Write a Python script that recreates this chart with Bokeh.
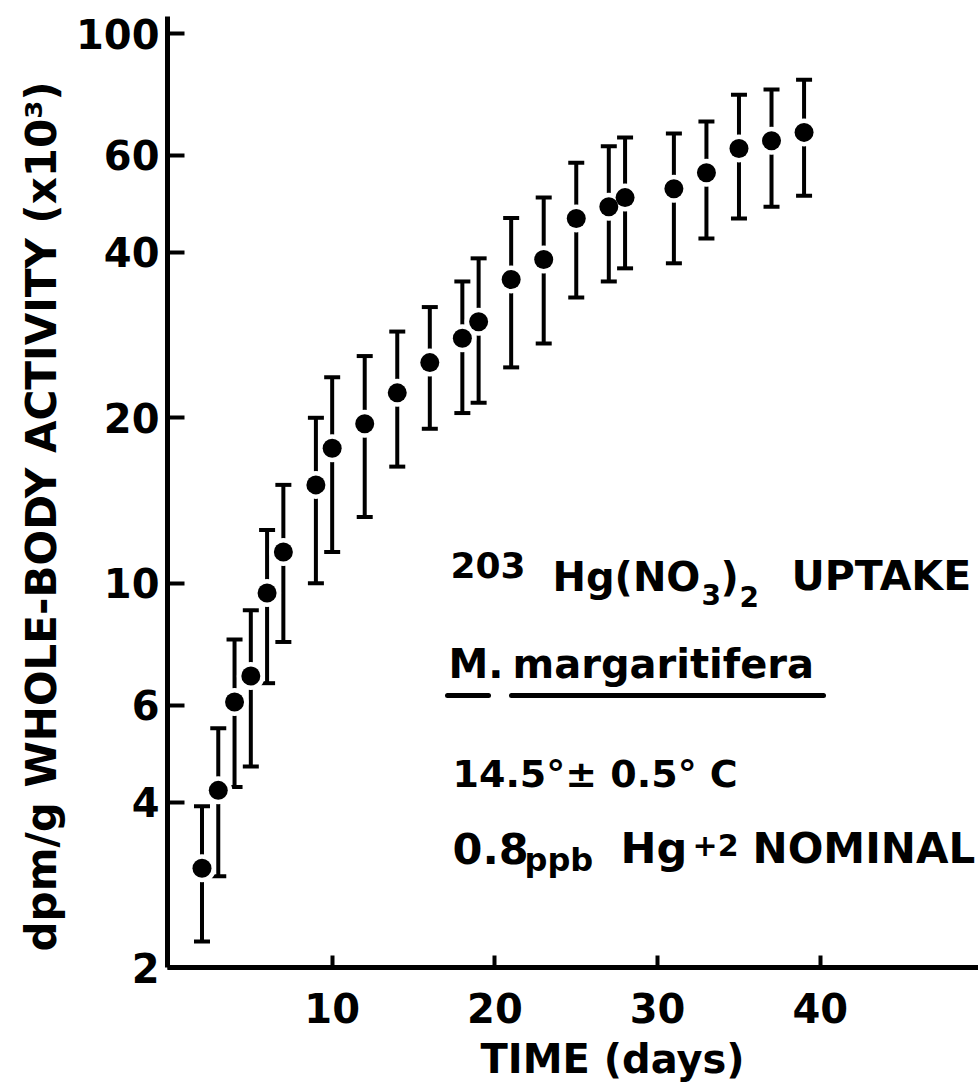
import math

from bokeh.embed import file_html
from bokeh.models import (ColumnDataSource, FixedTicker, Label, NumeralTickFormatter,
                          Range1d, TeeHead, Title, Whisker)
from bokeh.plotting import figure
from bokeh.resources import INLINE

# Whole-body activity of 203Hg in M. margaritifera over the uptake period
days = [2, 3, 4, 5, 6, 7, 9, 10, 12, 14, 16, 18, 19, 21, 23, 25, 27, 28, 31, 33, 35, 37, 39]
activity = [3.03, 4.2, 6.08, 6.78, 9.6, 11.4, 15.1, 17.6, 19.5, 22.2, 25.2, 27.9, 29.9,
            35.7, 38.8, 46.1, 48.4, 50.3, 52.2, 55.8, 61.8, 63.8, 66.1]
act_low = [2.23, 2.93, 4.26, 4.64, 6.58, 7.82, 10.0, 11.4, 13.2, 16.3, 19.1, 20.4, 21.3,
           24.7, 27.3, 33.1, 35.4, 37.4, 38.2, 42.4, 46.1, 48.4, 50.7]
act_high = [3.93, 5.45, 7.9, 8.93, 12.5, 15.1, 20.0, 23.7, 25.9, 28.7, 31.8, 35.4, 39.0,
            46.2, 50.3, 58.2, 62.4, 64.7, 65.8, 69.2, 77.4, 79.1, 82.4]

x_ticks = [10, 20, 30, 40]
y_ticks = [2, 4, 6, 10, 20, 40, 60, 100]

FONT = "DejaVu Sans"

# canvas geometry of the plotting frame
W, H = 978, 1090
FRAME_L, FRAME_R, FRAME_T, FRAME_B = 167, 978, 16, 967
X0, X1 = -0.12, 49.72
Y0, Y1 = 2.0, 107.4


def px_x(px):
    return X0 + (px - FRAME_L) / (FRAME_R - FRAME_L) * (X1 - X0)


def px_y(py):
    ly0, ly1 = math.log10(Y0), math.log10(Y1)
    return 10 ** (ly0 + (FRAME_B - py) / (FRAME_B - FRAME_T) * (ly1 - ly0))


p = figure(width=W, height=H, x_range=Range1d(X0, X1), y_range=Range1d(Y0, Y1),
           y_axis_type="log", output_backend="svg", toolbar_location=None,
           min_border_left=FRAME_L, min_border_right=W - FRAME_R,
           min_border_top=FRAME_T, min_border_bottom=H - FRAME_B)
p.outline_line_color = None
p.xgrid.visible = False
p.ygrid.visible = False
p.background_fill_color = "white"
p.border_fill_color = "white"

for ax in (p.xaxis[0], p.yaxis[0]):
    ax.axis_line_width = 5
    ax.axis_line_color = "black"
    ax.major_tick_line_width = 4
    ax.major_tick_line_color = "black"
    ax.major_tick_out = 0
    ax.minor_tick_in = 0
    ax.minor_tick_out = 0
    ax.major_label_text_font = FONT
    ax.major_label_text_font_style = "bold"
    ax.major_label_text_font_size = "40px"
    ax.major_label_text_color = "black"

p.xaxis.ticker = FixedTicker(ticks=x_ticks, minor_ticks=[])
p.yaxis.ticker = FixedTicker(ticks=y_ticks, minor_ticks=[])
p.yaxis.formatter = NumeralTickFormatter(format="0")
p.xaxis.major_tick_in = 12
p.yaxis.major_tick_in = 17
p.xaxis.major_label_standoff = 25
p.yaxis.major_label_standoff = 8

# axis titles, set in side panels so they are not clipped by the frame
p.add_layout(Title(text="dpm/g WHOLE-BODY ACTIVITY (x10³)", align="left", offset=16,
                   text_font=FONT, text_font_style="bold", text_font_size="42px",
                   text_color="black", standoff=16), "left")
p.add_layout(Title(text="TIME (days)", align="left", offset=313,
                   text_font=FONT, text_font_style="bold", text_font_size="40px",
                   text_color="black", standoff=17), "below")

src = ColumnDataSource(dict(day=days, act=activity, lo=act_low, hi=act_high))

bars = Whisker(source=src, base="day", lower="lo", upper="hi", dimension="height",
               line_width=4, line_color="black",
               lower_head=TeeHead(size=16, line_width=4, line_color="black"),
               upper_head=TeeHead(size=16, line_width=4, line_color="black"))
p.add_layout(bars)

# white halo around each point, then the solid dot
p.scatter("day", "act", source=src, size=28, fill_color="white", line_color=None)
p.scatter("day", "act", source=src, size=19, fill_color="black", line_color=None)


def label(px, base, text, size):
    # place a text run by its left edge and its baseline on the canvas
    p.add_layout(Label(x=px_x(px), y=px_y(base - 0.4 * size), text=text,
                       text_align="left", text_baseline="alphabetic",
                       text_font=FONT, text_font_style="bold",
                       text_font_size=f"{size}px", text_color="black"))


# experiment notes
label(450, 579, "203", 36)
label(552, 592, "Hg(NO", 40)
label(701, 605, "3", 28)
label(720, 592, ")", 40)
label(739, 607, "2", 28)
label(791, 592, "UPTAKE", 41)

label(448, 679, "M.", 40)
label(512, 679, "margaritifera", 40)
p.segment(x0=[px_x(447), px_x(511)], y0=[px_y(695)] * 2,
          x1=[px_x(488), px_x(823)], y1=[px_y(695)] * 2,
          line_width=5, line_color="black", line_cap="round")

label(452, 789, "14.5°± 0.5° C", 38)

label(452, 865, "0.8", 43)
label(524, 872, "ppb", 32)
label(620, 865, "Hg", 43)
label(692, 856, "+2", 30)
label(752, 865, "NOMINAL", 42)

open("out.html", "w").write(file_html(p, INLINE))
